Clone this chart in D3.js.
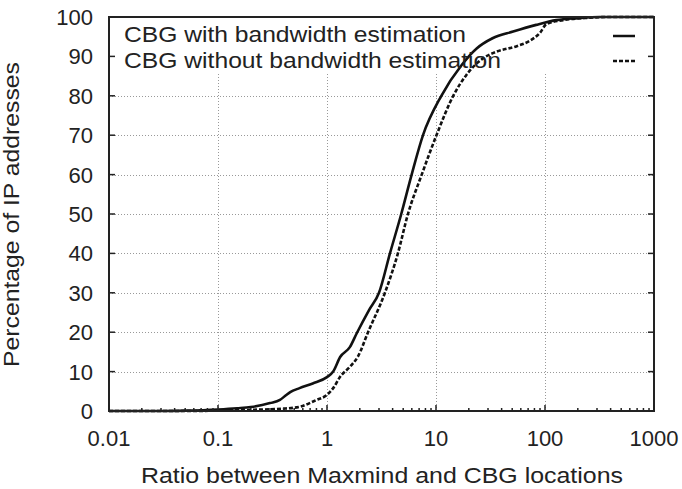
<!DOCTYPE html>
<html>
<head>
<meta charset="utf-8">
<script src="https://cdn.jsdelivr.net/npm/d3@7"></script>
<style>
  body { margin: 0; background: #fff; }
  text { font-family: "Liberation Sans", Arial, sans-serif; fill: #222; }
</style>
</head>
<body>
<div id="chart"></div>
<script>
// CDF of ratio
const withBwX = [0.01, 0.03, 0.05, 0.1, 0.15, 0.2, 0.3, 0.37, 0.42, 0.46, 0.56, 0.74, 1.0, 1.14, 1.32, 1.62, 1.88, 2.43, 3.0, 3.78, 4.8, 5.98, 7.6, 11.2, 17.2, 23.6, 33, 51, 83, 127, 200, 316, 1000];
const withBwY = [0, 0, 0.1, 0.4, 0.7, 1.0, 2.0, 2.8, 4.0, 4.8, 5.8, 7.0, 8.6, 10, 13.7, 16.2, 19.8, 25.6, 30, 40, 50, 60, 70, 80, 87.8, 92, 94.6, 96.3, 98, 99.2, 99.7, 100, 100];

const withoutBwX = [0.01, 0.05, 0.1, 0.2, 0.4, 0.565, 0.8, 0.99, 1.14, 1.32, 1.62, 1.92, 2.38, 3.4, 4.47, 5.53, 7.4, 10.1, 14.4, 19, 27, 35.9, 55, 72.8, 90, 103, 147, 250, 400, 1000];
const withoutBwY = [0, 0, 0.1, 0.3, 0.6, 1.1, 2.8, 4.0, 5.8, 8.7, 11.2, 13.8, 20, 30, 40, 50, 60, 70, 80, 85.3, 89.5, 91.2, 92.6, 94.0, 96.0, 98.2, 99.2, 99.8, 100, 100];

const seriesNames = ['CBG with bandwidth estimation', 'CBG without bandwidth estimation'];
const xTicks = [0.01, 0.1, 1, 10, 100, 1000];
const xTickLabels = ['0.01', '0.1', '1', '10', '100', '1000'];
const yTicks = [0, 10, 20, 30, 40, 50, 60, 70, 80, 90, 100];

const width = 682, height = 489;
const margin = { top: 17, right: 28, bottom: 78, left: 109 };
const x0 = margin.left, x1 = width - margin.right;
const y0 = height - margin.bottom, y1 = margin.top;

const x = d3.scaleLog().domain([0.01, 1000]).range([x0, x1]);
const y = d3.scaleLinear().domain([0, 100]).range([y0, y1]);

const svg = d3.select('#chart').append('svg')
  .attr('width', width)
  .attr('height', height);

// the original's titles are drawn wider than the tick labels
function stretch(sel, len) {
  sel.attr('textLength', len).attr('lengthAdjust', 'spacingAndGlyphs');
}

// minor ticks 2..9 per decade
const minor = [];
for (let e = -2; e < 3; e++) for (let m = 2; m < 10; m++) minor.push(m * Math.pow(10, e));

// grid
const grid = svg.append('g')
  .attr('stroke', '#999')
  .attr('stroke-width', 1)
  .attr('stroke-dasharray', '1,2');
grid.selectAll('.gx').data(xTicks.slice(1, -1)).enter().append('line')
  .attr('x1', d => Math.round(x(d)) + 0.5).attr('x2', d => Math.round(x(d)) + 0.5)
  .attr('y1', y0).attr('y2', y1);
grid.selectAll('.gy').data(yTicks.slice(1, -1)).enter().append('line')
  .attr('x1', x0).attr('x2', x1)
  .attr('y1', d => Math.round(y(d)) + 0.5).attr('y2', d => Math.round(y(d)) + 0.5);

// opaque key box
svg.append('rect')
  .attr('x', x0 + 1).attr('y', y1 + 1)
  .attr('width', x1 - x0 - 7).attr('height', 54)
  .attr('fill', '#fff');

const line = d3.line()
  .x(d => x(d[0]))
  .y(d => y(d[1]))
  .curve(d3.curveMonotoneX);

svg.append('path')
  .datum(d3.zip(withoutBwX, withoutBwY))
  .attr('d', line)
  .attr('fill', 'none')
  .attr('stroke', '#111')
  .attr('stroke-width', 2.6)
  .attr('stroke-dasharray', '4,2');

svg.append('path')
  .datum(d3.zip(withBwX, withBwY))
  .attr('d', line)
  .attr('fill', 'none')
  .attr('stroke', '#111')
  .attr('stroke-width', 2.6);

// key
const keyLen = [342, 377];
const key = svg.append('g');
key.selectAll('text').data(seriesNames).enter().append('text')
  .attr('x', 124)
  .attr('y', (d, i) => 42 + i * 26)
  .style('font-size', '22px')
  .text(d => d)
  .each(function (d, i) { stretch(d3.select(this), keyLen[i]); });
key.selectAll('line').data(seriesNames).enter().append('line')
  .attr('x1', 613).attr('x2', 635)
  .attr('y1', (d, i) => 36 + i * 25).attr('y2', (d, i) => 36 + i * 25)
  .attr('stroke', '#111')
  .attr('stroke-width', 2.5)
  .attr('stroke-dasharray', (d, i) => i ? '4,2' : null);

// border
svg.append('rect')
  .attr('x', x0).attr('y', y1)
  .attr('width', x1 - x0).attr('height', y0 - y1)
  .attr('fill', 'none')
  .attr('stroke', '#222')
  .attr('stroke-width', 2);

const ticks = svg.append('g').attr('stroke', '#222').attr('stroke-width', 1.5);
ticks.selectAll('.xt').data(xTicks).enter().append('line')
  .attr('x1', d => x(d)).attr('x2', d => x(d))
  .attr('y1', y0).attr('y2', y0 - 6);
ticks.selectAll('.xm').data(minor).enter().append('line')
  .attr('x1', d => x(d)).attr('x2', d => x(d))
  .attr('y1', y0).attr('y2', y0 - 3);
ticks.selectAll('.yl').data(yTicks).enter().append('line')
  .attr('x1', x0).attr('x2', x0 + 6)
  .attr('y1', d => y(d)).attr('y2', d => y(d));
ticks.selectAll('.yr').data(yTicks).enter().append('line')
  .attr('x1', x1).attr('x2', x1 - 6)
  .attr('y1', d => y(d)).attr('y2', d => y(d));

// tick labels
svg.append('g').selectAll('text').data(yTicks).enter().append('text')
  .attr('x', 93)
  .attr('y', d => y(d) + 8)
  .attr('text-anchor', 'end')
  .style('font-size', '22px')
  .text(d => d);
svg.append('g').selectAll('text').data(xTicks).enter().append('text')
  .attr('x', d => x(d))
  .attr('y', 446)
  .attr('text-anchor', 'middle')
  .style('font-size', '22px')
  .text((d, i) => xTickLabels[i]);

// axis titles
svg.append('text')
  .attr('x', 141).attr('y', 483)
  .style('font-size', '22px')
  .text('Ratio between Maxmind and CBG locations')
  .call(stretch, 482);
svg.append('text')
  .attr('transform', 'translate(19,367) rotate(-90)')
  .style('font-size', '22px')
  .text('Percentage of IP addresses')
  .call(stretch, 305);
</script>
</body>
</html>
